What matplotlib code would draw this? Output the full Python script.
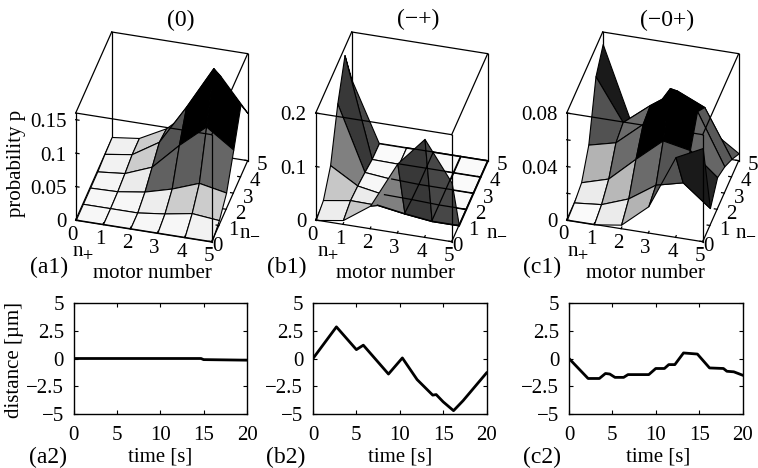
import matplotlib
matplotlib.use("Agg")
import matplotlib.pyplot as plt
from mpl_toolkits.mplot3d import proj3d
from mpl_toolkits.mplot3d.art3d import Poly3DCollection

plt.rcParams['font.family'] = ['Liberation Serif', 'DejaVu Serif']
plt.rcParams['mathtext.fontset'] = 'stix'

W, H = 758, 468

motors = [0, 1, 2, 3, 4, 5]

# probabilities, one row per n_-, one column per n_+
p_a = [[0, 0, 0, 0, 0, 0],
       [0, 0, 0, .005, .012, .008],
       [0, .001, .007, .018, .033, .025],
       [0, .004, .02, .059, .093, .065],
       [.002, .008, .033, .092, .156, .108],
       [.003, .008, .029, .065, .12, .071]]
p_b = [[0, .008, .043, .13, .184, .11],
       [.007, .015, .014, .006, 0, 0],
       [.042, .012, .003, .002, 0, 0],
       [.127, .007, .002, 0, 0, 0],
       [.187, .001, 0, 0, 0, 0],
       [.11, 0, 0, 0, 0, 0]]
p_c = [[0, 0, .003, .02, .06, .07],
       [.001, .003, .0105, .024, .029, .013],
       [.004, .01, .028, .045, .041, .024],
       [.02, .025, .042, .072, .058, .02],
       [.059, .028, .044, .058, .049, .0135],
       [.071, .018, .024, .02, .019, .0055]]

# grey of each surface cell
grey_a = [[.97, .97, .97, .97, .95],
          [.97, .97, .93, .80, .80],
          [.96, .92, .38, .37, .40],
          [.95, .80, .33, 0, 0],
          [.94, .80, .45, 0, 0]]
grey_b = [[.93, .78, .5, .22, .28],
          [.78, .92, .9, .98, .98],
          [.5, .97, .98, .98, .98],
          [.22, .98, .98, .98, .98],
          [.28, .98, .98, .98, .98]]
grey_c = [[.98, .92, .7, .33, .1],
          [.92, .72, .42, .33, .15],
          [.7, .42, 0, 0, .4],
          [.32, .42, 0, 0, .35],
          [.1, .32, 0, 0, .35]]

ztop = [0.16, 0.2, 0.08]
zticks = [[0, .05, .1, .15], [0, .1, .2], [0, .04, .08]]
zlabels = [['0', '0.05', '0.1', '0.15'], ['0', '0.1', '0.2'], ['0', '0.04', '0.08']]
zminor = [[], [], [.02, .06]]
titles = ['(0)', '(\u2212+)', '(\u22120+)']

# distance traces
t_a = [0, 14.7, 15, 20]
d_a = [0, 0, -.1, -.15]
t_b = [0, 2.7, 5, 5.8, 8.7, 10.3, 12, 13.8, 14.2, 15, 16.2, 17.3, 20]
d_b = [0, 2.85, .8, 1.2, -1.4, .05, -1.9, -3.3, -3.25, -3.9, -4.7, -3.8, -1.3]
t_c = [0, 2.2, 3.5, 4.2, 4.7, 5.3, 6.3, 6.8, 9.2, 10, 11, 11.5, 12.2, 13.2, 14.8,
       16.2, 17.8, 18.2, 19, 20]
d_c = [0, -1.8, -1.8, -1.35, -1.4, -1.7, -1.7, -1.45, -1.45, -.9, -.9, -.55, -.55,
       .5, .4, -.85, -.9, -1.15, -1.2, -1.5]
time_ticks = [0, 5, 10, 15, 20]
dist_ticks = [-5, -2.5, 0, 2.5, 5]
dist_labels = ['\u22125', '\u22122.5', '0', '2.5', '5']

fig = plt.figure(figsize=(W / 100, H / 100), dpi=100)


def label(x, y, s, size=15, **kw):
    kw.setdefault('ha', 'center')
    kw.setdefault('va', 'center')
    fig.text(x / W, 1 - y / H, s, fontsize=size, **kw)


def surface(p, grey, top, ticks, minor, left, see_through=False):
    ax = fig.add_axes([left / W, 0.3, 300 / W, 300 / H], projection='3d', proj_type='ortho',
                      computed_zorder=False)
    ax.view_init(elev=36.8, azim=-75.1)
    ax.set_box_aspect((140.8, 140, 133.7))
    ax.set_xlim(0, 5, view_margin=0)
    ax.set_ylim(0, 5, view_margin=0)
    ax.set_zlim(0, top, view_margin=0)
    ax.set_xticks([])
    ax.set_yticks([])
    ax.set_zticks([])
    ax.set_axis_off()
    ax.patch.set_visible(False)

    # back to front so the surface hides itself
    order = 2.0
    for j in range(4, -1, -1):
        for i in range(5):
            cell = [(motors[i], motors[j], p[j][i]),
                    (motors[i + 1], motors[j], p[j][i + 1]),
                    (motors[i + 1], motors[j + 1], p[j + 1][i + 1]),
                    (motors[i], motors[j + 1], p[j + 1][i])]
            g = grey[j][i]
            ax.add_collection3d(Poly3DCollection([cell], facecolors=[(g, g, g)], edgecolors='k',
                                                 linewidths=0.8, zorder=order))
            order += 0.01

    def edge(xs, ys, zs, z=4):
        ax.plot(xs, ys, zs, color='k', lw=0.9, zorder=z)

    if see_through:
        # the original shows the flat grid through the wall in front of it
        for j in motors[1:]:
            edge(motors[2:], [j] * 4, p[j][2:], 3.5)
        for i in motors[3:]:
            edge([i] * 5, motors[1:], [row[i] for row in p[1:]], 3.5)

    edge([0, 0], [5, 5], [0, top], 1)
    edge([5, 5], [5, 5], [0, top], 1)
    edge([0, 5], [5, 5], [0, 0], 1)
    edge([0, 0], [0, 5], [0, 0], 1)
    edge([0, 5], [5, 5], [top, top])
    edge([0, 0], [0, 5], [top, top])
    edge([5, 5], [0, 5], [top, top])
    edge([0, 5], [0, 0], [top, top])
    edge([0, 5], [0, 0], [0, 0])
    edge([5, 5], [0, 5], [0, 0])
    edge([0, 0], [0, 0], [0, top])
    edge([5, 5], [0, 0], [0, top])

    for m in motors:
        edge([m, m], [0, .1], [0, 0])
        edge([5, 4.9], [m, m], [0, 0])
    for z in list(ticks) + minor:
        edge([0, .12], [0, 0], [z, z])
    return ax


def to_pixels(ax, x, y, z):
    px = proj3d.proj_transform(x, y, z, ax.get_proj())
    return ax.transData.transform(px[:2])


def fit(ax, x0, y0, x1):
    # shift and scale the 3d axes so that its box lands on the wanted pixels
    fig.canvas.draw()
    pa = to_pixels(ax, 0, 0, 0)
    pb = to_pixels(ax, 5, 0, 0)
    r = (x1 - x0) / (pb[0] - pa[0])
    box = ax.get_position()
    cx = (box.x0 + box.x1) / 2 * W
    cy = (box.y0 + box.y1) / 2 * H
    size = box.width * W * r
    ncx = x0 - (pa[0] - cx) * r
    ncy = (H - y0) - (pa[1] - cy) * r
    ax.set_position([(ncx - size / 2) / W, (ncy - size / 2) / H, size / W, size / H])
    fig.canvas.draw()


def tick_text(ax, ticks, tick_text):
    # tick labels are placed in pixels from the projected tick
    for m in motors:
        px = to_pixels(ax, m, 0, 0)
        label(px[0] - 3, H - px[1] + 15, str(m))
        px = to_pixels(ax, 5, m, 0)
        label(px[0] + (14.5 if m else 5.5), H - px[1] + 5, str(m))
    for z, s in zip(ticks, tick_text):
        px = to_pixels(ax, 0, 0, z)
        label(px[0] - 9, H - px[1] + 3, s, ha='right')


panels = [(p_a, grey_a, 75.7, 211.7, False), (p_b, grey_b, 315.7, 451.7, True),
          (p_c, grey_c, 566.7, 702.7, False)]
for k, (p, grey, x0, x1, through) in enumerate(panels):
    ax = surface(p, grey, ztop[k], zticks[k], zminor[k], x0, through)
    fit(ax, x0, 220, x1)
    tick_text(ax, zticks[k], zlabels[k])

label(181, 20, titles[0], 17)
label(418, 19, titles[1], 17)
label(667, 20, titles[2], 17)

for x, s in zip([49, 287, 542], ['(a1)', '(b1)', '(c1)']):
    label(x, 267, s, 17)
for x in [152, 395, 645]:
    label(x, 273, 'motor number', 15)
for x in [83, 328, 578]:
    label(x, 253, 'n$_{+}$', 15)
for x in [250, 497, 746]:
    label(x, 232, 'n$_{-}$', 15)
label(17, 163, 'probability p', 15, rotation=90)
label(15, 360, 'distance [\u00b5m]', 15, rotation=90)

traces = [(t_a, d_a, 73.5), (t_b, d_b, 313), (t_c, d_c, 569)]
for t, d, left in traces:
    ax = fig.add_axes([left / W, 1 - 414 / H, 173.5 / W, 111 / H])
    ax.plot(t, d, color='k', lw=2.0)
    ax.set_xlim(0, 20)
    ax.set_ylim(-5, 5)
    ax.set_xticks(time_ticks)
    ax.set_yticks(dist_ticks)
    ax.set_yticklabels(dist_labels)
    ax.tick_params(direction='in', top=True, right=True, labelsize=15, length=3, width=0.8)
    ax.tick_params(axis='x', pad=9)
    ax.tick_params(axis='y', pad=7)
    for s in ax.spines.values():
        s.set_linewidth(1.0)

for x, s in zip([48, 286, 542], ['(a2)', '(b2)', '(c2)']):
    label(x, 457, s, 17)
for x in [160, 400, 658]:
    label(x, 457, 'time [s]', 15)

fig.savefig('out.png', dpi=100)
